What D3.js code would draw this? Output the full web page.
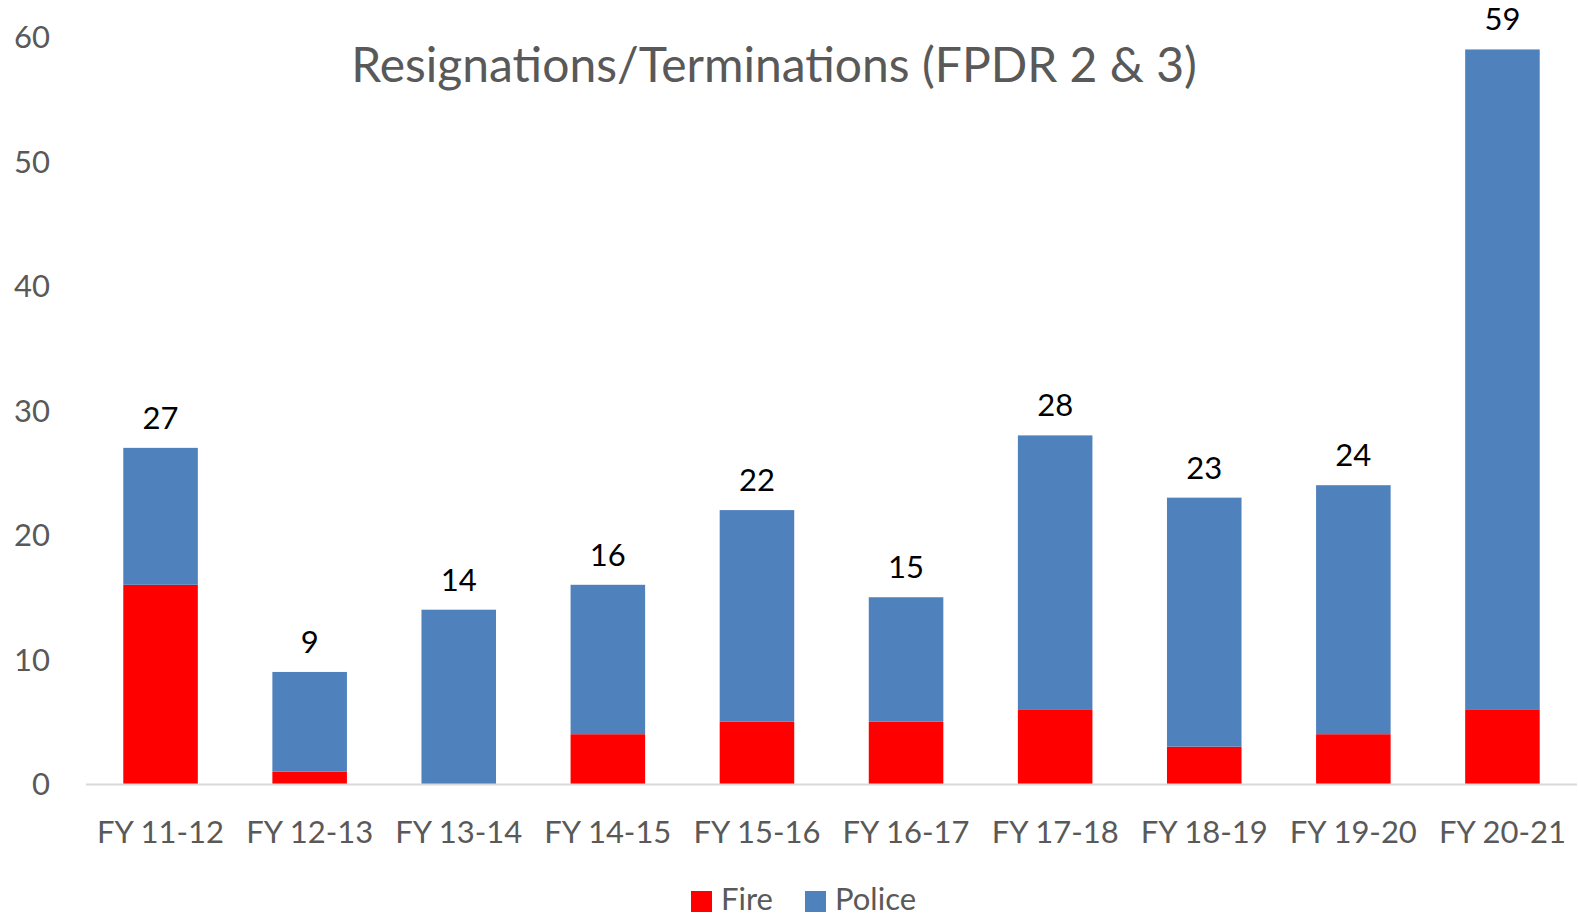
<!DOCTYPE html>
<html>
<head>
<meta charset="utf-8">
<script src="https://cdn.jsdelivr.net/npm/d3@7"></script>
<style>
  body { margin: 0; background: #fff; overflow: hidden; }
  svg text { font-family: Lato, "Open Sans", sans-serif; }
</style>
</head>
<body>
<div id="chart"></div>
<script>
// datos
const years = ['FY 11-12', 'FY 12-13', 'FY 13-14', 'FY 14-15', 'FY 15-16',
  'FY 16-17', 'FY 17-18', 'FY 18-19', 'FY 19-20', 'FY 20-21'];
const fire = [16, 1, 0, 4, 5, 5, 6, 3, 4, 6];
const police = [11, 8, 14, 12, 17, 10, 22, 20, 20, 53];
const totals = [27, 9, 14, 16, 22, 15, 28, 23, 24, 59];
const yTicks = [0, 10, 20, 30, 40, 50, 60];
const seriesNames = ['Fire', 'Police'];

const width = 1579;
const height = 917;

const colors = { Fire: '#ff0000', Police: '#4f81bd' };

const svg = d3.select('#chart')
  .append('svg')
  .attr('width', width)
  .attr('height', height);

const x = d3.scaleBand()
  .domain(years)
  .range([86, 1577])
  .paddingInner(0.5)
  .paddingOuter(0.25);

const y = d3.scaleLinear()
  .domain([0, 60])
  .range([784, 37]);

// eje y (solo etiquetas)
svg.append('g')
  .selectAll('text')
  .data(yTicks)
  .enter()
  .append('text')
  .attr('x', 50)
  .attr('y', d => y(d) + 11)
  .attr('text-anchor', 'end')
  .attr('font-size', 31)
  .attr('fill', '#595959')
  .text(d => d);

// barras apiladas
const rows = years.map((yr, i) => ({ year: yr, Fire: fire[i], Police: police[i] }));
const stack = d3.stack().keys(seriesNames)(rows);

svg.append('g')
  .selectAll('g')
  .data(stack)
  .enter()
  .append('g')
  .attr('fill', d => colors[d.key])
  .selectAll('rect')
  .data(d => d)
  .enter()
  .append('rect')
  .attr('x', d => x(d.data.year))
  .attr('width', x.bandwidth())
  .attr('y', d => y(d[1]))
  .attr('height', d => y(d[0]) - y(d[1]));

// linea base
svg.append('line')
  .attr('x1', 86)
  .attr('x2', 1577)
  .attr('y1', y(0) + 0.5)
  .attr('y2', y(0) + 0.5)
  .attr('stroke', '#d9d9d9')
  .attr('stroke-width', 2);

// totales
svg.append('g')
  .selectAll('text')
  .data(totals)
  .enter()
  .append('text')
  .attr('x', (d, i) => x(years[i]) + x.bandwidth() / 2)
  .attr('y', d => y(d) - 19)
  .attr('text-anchor', 'middle')
  .attr('font-size', 31)
  .attr('fill', '#000')
  .text(d => d);

// etiquetas x
svg.append('g')
  .selectAll('text')
  .data(years)
  .enter()
  .append('text')
  .attr('x', d => x(d) + x.bandwidth() / 2)
  .attr('y', 843)
  .attr('text-anchor', 'middle')
  .attr('font-size', 31)
  .attr('fill', '#595959')
  .text(d => d);

// titulo
svg.append('text')
  .attr('x', 774)
  .attr('y', 82)
  .attr('text-anchor', 'middle')
  .attr('font-size', 48)
  .attr('fill', '#595959')
  .text('Resignations/Terminations (FPDR 2 & 3)');

// leyenda
const legendX = [691, 805];
const legend = svg.append('g')
  .selectAll('g')
  .data(seriesNames)
  .enter()
  .append('g')
  .attr('transform', (d, i) => `translate(${legendX[i]},891)`);

legend.append('rect')
  .attr('width', 21)
  .attr('height', 21)
  .attr('fill', d => colors[d]);

legend.append('text')
  .attr('x', 30)
  .attr('y', 19)
  .attr('font-size', 31)
  .attr('fill', '#595959')
  .text(d => d);
</script>
</body>
</html>
